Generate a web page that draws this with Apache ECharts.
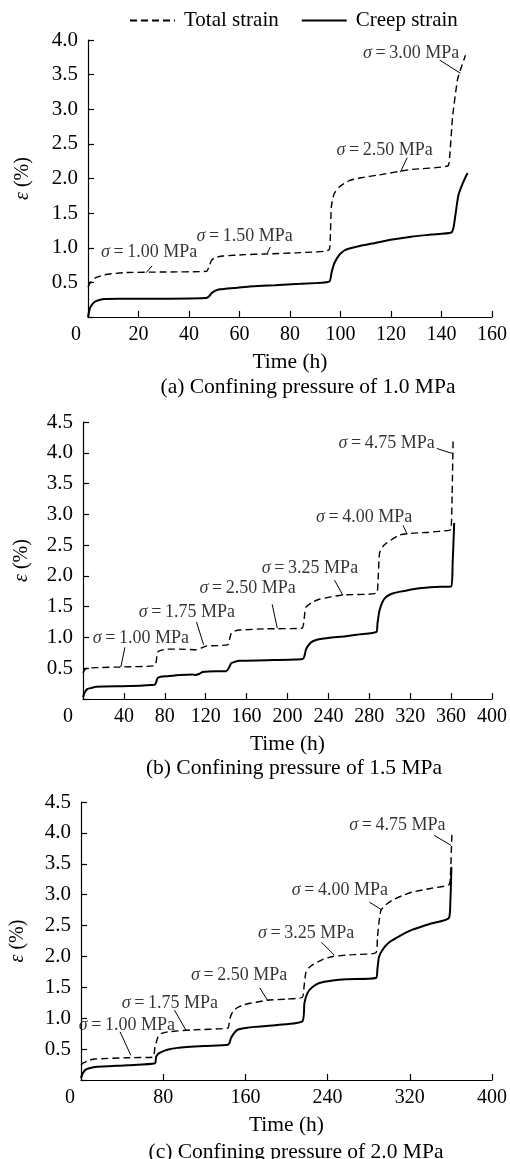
<!DOCTYPE html>
<html><head><meta charset="utf-8">
<script src="https://cdn.jsdelivr.net/npm/echarts@6/dist/echarts.min.js"></script>
<style>html,body{margin:0;padding:0;background:#fff}#c{width:510px;height:1159px}</style>
</head><body><div id="c"></div>
<script>
const seriesNames = ['Total strain', 'Creep strain'];

// Panel (a) confining pressure 1.0 MPa: [time h, strain %]
const totalA = [[0,0.43],[1,0.5],[2.7,0.56],[6.6,0.61],[14,0.64],[30,0.65],[47,0.66],[47.8,0.72],[49,0.82],[50.5,0.86],[53.5,0.88],[62,0.9],[70,0.91],[84,0.93],[95.5,0.97],[96,1.2],[96.4,1.6],[97.5,1.78],[99.6,1.88],[103.5,1.97],[108,2.01],[115,2.05],[128,2.13],[142.5,2.18],[143.2,2.3],[144.4,2.89],[146.3,3.42],[147.5,3.57],[149.5,3.78]];
const creepA = [[0,0],[0.4,0.07],[0.8,0.13],[1.6,0.18],[2.7,0.22],[4.5,0.245],[6.6,0.26],[12,0.265],[25,0.265],[46.8,0.275],[48,0.3],[48.8,0.34],[50.5,0.38],[52.3,0.4],[58,0.42],[64,0.44],[74,0.46],[84,0.48],[95.5,0.51],[96.5,0.65],[97.6,0.78],[99.6,0.9],[101.5,0.96],[103.5,0.99],[108,1.03],[112.6,1.06],[120.5,1.12],[128,1.16],[136,1.19],[143.9,1.22],[144.8,1.3],[145.5,1.47],[146.7,1.76],[148.4,1.93],[150.3,2.08]];

// Panel (b) confining pressure 1.5 MPa
const totalB = [[0,0.42],[1.5,0.47],[4,0.5],[15,0.51],[36,0.52],[70,0.54],[71.5,0.6],[73,0.76],[76,0.79],[82,0.81],[95,0.81],[111,0.8],[116,0.83],[121,0.86],[141.5,0.88],[143,0.95],[145,1.07],[148,1.1],[153,1.12],[179,1.14],[214,1.15],[215.5,1.2],[216.6,1.35],[218,1.49],[224,1.57],[231,1.62],[254,1.69],[287,1.72],[288.5,1.9],[290,2.37],[293,2.47],[296.6,2.53],[309,2.66],[320,2.69],[338.5,2.71],[358,2.74],[360,2.76],[361,3.3],[362,4.25]];
const creepB = [[0,0.03],[1.5,0.1],[4,0.16],[8,0.18],[13,0.2],[46,0.21],[70,0.23],[71.5,0.27],[73,0.34],[76,0.36],[82,0.37],[95,0.39],[107,0.4],[110,0.39],[114,0.41],[117,0.44],[130,0.45],[140,0.45],[142.5,0.5],[145,0.58],[148,0.6],[153,0.62],[179,0.63],[215,0.65],[216.6,0.7],[218,0.8],[219.5,0.85],[223,0.92],[228,0.96],[240,0.99],[257,1.02],[270,1.05],[287,1.09],[288,1.23],[290,1.44],[293,1.58],[296.6,1.66],[302,1.71],[309,1.74],[329,1.8],[345,1.82],[360,1.83],[361.5,2.2],[363,2.86]];

// Panel (c) confining pressure 2.0 MPa
const totalC = [[0,0.24],[1.5,0.27],[4,0.29],[8,0.32],[13.5,0.34],[45.6,0.36],[70,0.37],[71,0.4],[72,0.53],[75,0.7],[78,0.75],[84.5,0.78],[107,0.81],[143,0.84],[144,0.9],[145,1.0],[147.6,1.1],[152,1.17],[159,1.22],[181,1.29],[200,1.31],[215.5,1.34],[217,1.5],[218,1.65],[219,1.75],[222,1.82],[225,1.86],[235,1.95],[245,2.0],[265,2.03],[287,2.06],[288.5,2.3],[290,2.55],[292,2.75],[297,2.84],[303,2.91],[312,2.98],[322,3.04],[340,3.1],[358,3.16],[359.5,3.3],[361,4.0]];
const creepC = [[0,0.03],[1.5,0.1],[4,0.16],[8,0.19],[13.5,0.21],[45.6,0.24],[72,0.27],[73,0.37],[75,0.42],[78,0.45],[84,0.49],[94,0.52],[120,0.55],[143,0.57],[144.5,0.6],[146,0.68],[149,0.76],[152,0.81],[160,0.84],[169,0.86],[191,0.89],[215.5,0.95],[217.5,1.25],[220.5,1.41],[225,1.5],[232,1.57],[245,1.61],[258,1.63],[287,1.65],[288.5,1.8],[290,1.99],[294,2.12],[300,2.23],[310,2.33],[322,2.43],[340,2.53],[358,2.62],[359.5,2.9],[360.5,3.45]];

// Stress annotations: [text t, text eps, leader t1, eps1, leader t2, eps2, stress]
const annA = [[24.2,0.94,25.4,0.74,23,0.64,'1.00'],[62,1.17,72.2,1.01,71,0.92,'1.50'],[117.5,2.41,126.4,2.3,123.7,2.09,'2.50'],[128,3.81,139.3,3.71,147.5,3.52,'3.00']];
const annB = [[56.6,0.99,41,0.84,37,0.52,'1.00'],[101.5,1.41,111,1.25,118,0.88,'1.75'],[161,1.8,185,1.54,190,1.15,'2.50'],[222,2.13,246,1.93,254,1.69,'3.25'],[275,2.95,313,2.82,317,2.68,'4.00'],[297,4.16,346,4.07,361,3.99,'4.75']];
const annC = [[44.7,0.89,38,0.78,48.5,0.4,'1.00'],[86.4,1.25,91,1.13,102,0.81,'1.75'],[154,1.7,174,1.49,181.5,1.29,'2.50'],[219,2.38,234,2.23,246.6,2.02,'3.25'],[252,3.07,280.6,2.88,293,2.75,'4.00'],[308,4.13,343.7,3.96,360,3.8,'4.75']];

// Axis ranges [min, max, interval]
const xRangeA = [0,160,20], xRangeB = [0,400,40], xRangeC = [0,400,80];
const yRangeA = [0,4,0.5], yRangeB = [0,4.5,0.5], yRangeC = [0,4.5,0.5];
const subTitles = ['(a) Confining pressure of 1.0 MPa','(b) Confining pressure of 1.5 MPa','(c) Confining pressure of 2.0 MPa'];
const xName = 'Time (h)';

const FF = '"Liberation Serif", "Times New Roman", serif';
const grids = [{left:88,top:40,width:410,height:277},{left:83,top:422,width:410,height:277},{left:81,top:802,width:412,height:278}];
const zeroShift = [12,15,11];
const yNameGap = [55,51,53];

function xAx(i, r){
  return {gridIndex:i,type:'value',min:r[0],max:r[1],interval:r[2],
    axisLine:{show:true,onZero:false,lineStyle:{color:'#000',width:1.2}},
    axisTick:{show:true,inside:true,length:6,lineStyle:{color:'#000',width:1.2}},
    splitLine:{show:false},
    axisLabel:{color:'#000',fontFamily:FF,fontSize:20,margin:8,
      formatter:v=>v===0?'{z|0}':String(v),
      rich:{z:{color:'#000',fontFamily:FF,fontSize:20,padding:[0,zeroShift[i]*2,0,0]}}},
    name:xName,nameLocation:'middle',nameGap:34,
    nameTextStyle:{color:'#000',fontFamily:FF,fontSize:21.5}};
}
function yAx(i, r){
  return {gridIndex:i,type:'value',min:r[0],max:r[1],interval:r[2],
    axisLine:{show:true,onZero:false,lineStyle:{color:'#000',width:1.2}},
    axisTick:{show:true,inside:true,length:6,lineStyle:{color:'#000',width:1.2}},
    splitLine:{show:false},
    axisLabel:{color:'#000',fontFamily:FF,fontSize:21,margin:10,padding:[7,0,0,0],
      formatter:v=>v===0?'':v.toFixed(1)},
    name:'{i|ε} (%)',nameLocation:'middle',nameRotate:90,nameGap:yNameGap[i],
    nameTextStyle:{color:'#000',fontFamily:FF,fontSize:20,
      rich:{i:{fontStyle:'italic',fontFamily:FF,fontSize:20,color:'#000'}}}};
}
function curves(i, tot, cr){
  return [
    {type:'line',name:seriesNames[0],xAxisIndex:i,yAxisIndex:i,data:tot,symbol:'none',smooth:0.2,
     lineStyle:{color:'#000',width:1.4,type:[7,4]},itemStyle:{color:'#000'},silent:true},
    {type:'line',name:seriesNames[1],xAxisIndex:i,yAxisIndex:i,data:cr,symbol:'none',smooth:0.2,
     lineStyle:{color:'#000',width:2},itemStyle:{color:'#000'},silent:true}
  ];
}
function notes(i, ann){
  return [
    {type:'lines',coordinateSystem:'cartesian2d',xAxisIndex:i,yAxisIndex:i,silent:true,
     data:ann.map(a=>({coords:[[a[2],a[3]],[a[4],a[5]]]})),
     lineStyle:{color:'#000',width:1,opacity:1}},
    {type:'scatter',xAxisIndex:i,yAxisIndex:i,silent:true,symbolSize:1,
     itemStyle:{color:'rgba(0,0,0,0)'},
     data:ann.map(a=>({value:[a[0],a[1]],name:a[6]})),
     label:{show:true,position:'inside',color:'#000',fontFamily:FF,fontSize:18,textBorderWidth:0,
       formatter:p=>'{i|σ}\u2009=\u2009'+p.name+' MPa',
       rich:{i:{fontStyle:'italic',fontFamily:FF,fontSize:18,color:'#000',textBorderWidth:0}}}}
  ];
}

const chart = echarts.init(document.getElementById('c'), null, {renderer:'canvas'});
chart.setOption({
  animation:false,
  backgroundColor:'#fff',
  legend:{data:seriesNames,left:129,top:10,padding:0,itemWidth:45,itemHeight:14,itemGap:22,selectedMode:false,
    itemStyle:{opacity:0},
    textStyle:{color:'#000',fontFamily:FF,fontSize:21,padding:[0,0,0,4]}},
  grid:grids,
  xAxis:[xAx(0,xRangeA),xAx(1,xRangeB),xAx(2,xRangeC)],
  yAxis:[yAx(0,yRangeA),yAx(1,yRangeB),yAx(2,yRangeC)],
  series:[].concat(curves(0,totalA,creepA),curves(1,totalB,creepB),curves(2,totalC,creepC),
    notes(0,annA),notes(1,annB),notes(2,annC)),
  graphic:[
    {type:'text',x:308,y:387,style:{text:subTitles[0],font:'21.5px '+FF,fill:'#000',align:'center',verticalAlign:'middle'}},
    {type:'text',x:294,y:768,style:{text:subTitles[1],font:'21.5px '+FF,fill:'#000',align:'center',verticalAlign:'middle'}},
    {type:'text',x:296,y:1152,style:{text:subTitles[2],font:'21.5px '+FF,fill:'#000',align:'center',verticalAlign:'middle'}}
  ]
});
</script></body></html>
